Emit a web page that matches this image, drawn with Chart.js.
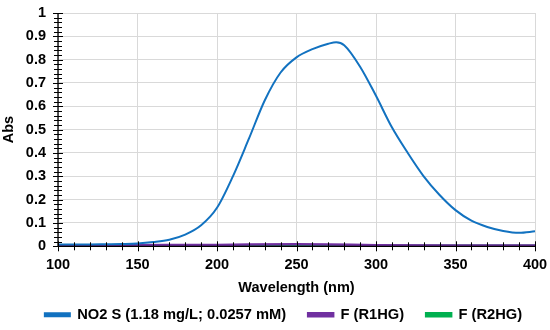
<!DOCTYPE html>
<html>
<head>
<meta charset="utf-8">
<script src="https://cdn.jsdelivr.net/npm/chart.js@4/dist/chart.umd.min.js"></script>
<style>
html,body{margin:0;padding:0;background:#fff;}
#wrap{width:550px;height:330px;position:relative;}
</style>
</head>
<body>
<div id="wrap"><canvas id="c" width="550" height="330"></canvas></div>
<script>
const wavelengths = [100,110,120,130,140,150,160,170,180,190,200,210,220,230,240,250,260,270,275,280,290,300,310,320,330,340,350,360,370,380,390,400];
const no2S = [0.008,0.008,0.008,0.009,0.010,0.012,0.018,0.028,0.05,0.09,0.165,0.30,0.46,0.625,0.745,0.81,0.845,0.868,0.875,0.862,0.77,0.645,0.51,0.40,0.30,0.22,0.155,0.11,0.083,0.066,0.058,0.064];
const r1hgX = [100,150,200,250,270,300,350,400];
const r1hg = [0.004,0.005,0.006,0.009,0.008,0.005,0.003,0.003];
const r2hgX = [100,200,300,400];
const r2hg = [0.002,0.002,0.002,0.002];
const xTicks = [100,150,200,250,300,350,400];
const yTicks = [0,0.1,0.2,0.3,0.4,0.5,0.6,0.7,0.8,0.9,1];
const seriesNames = ['NO2 S (1.18 mg/L; 0.0257 mM)','F (R1HG)','F (R2HG)'];

const toPts = (xs, ys) => xs.map((x, i) => ({x: x, y: ys[i]}));
const FONT = "'Liberation Sans', Arial, sans-serif";

const crossTicks = {
  id: 'crossTicks',
  afterDraw(chart) {
    const ctx = chart.ctx, xs = chart.scales.x, ys = chart.scales.y;
    const ca = chart.chartArea;
    ctx.save();
    ctx.strokeStyle = '#000';
    ctx.lineWidth = 1.3;
    ctx.beginPath();
    ctx.moveTo(ca.left, ca.top); ctx.lineTo(ca.left, ca.bottom);
    ctx.moveTo(ca.left, ca.bottom); ctx.lineTo(ca.right, ca.bottom);
    ctx.stroke();
    ctx.lineWidth = 1;
    ctx.beginPath();
    for (let v = 0; v <= 1.0001; v += 0.02) {
      const y = Math.round(ys.getPixelForValue(v)) + 0.5;
      const major = Math.abs(v * 10 - Math.round(v * 10)) < 1e-6;
      const l = major ? 5 : 4;
      ctx.moveTo(ca.left - l, y); ctx.lineTo(ca.left + l, y);
    }
    for (let v = 100; v <= 400; v += 10) {
      const x = Math.round(xs.getPixelForValue(v)) + 0.5;
      const major = v % 50 === 0;
      const l = major ? 5 : 4;
      ctx.moveTo(x, ca.bottom - l); ctx.lineTo(x, ca.bottom + l);
    }
    ctx.stroke();
    ctx.restore();
  }
};

const legendShift = {
  id: 'legendShift',
  afterLayout(chart) {
    if (chart.legend) { chart.legend.left += 16; chart.legend.right += 16; }
  }
};

new Chart(document.getElementById('c'), {
  type: 'line',
  data: {
    datasets: [
      {label: seriesNames[0], data: toPts(wavelengths, no2S), borderColor: '#1272C0', backgroundColor: '#1272C0', borderWidth: 2, pointRadius: 0, cubicInterpolationMode: 'monotone'},
      {label: seriesNames[1], data: toPts(r1hgX, r1hg), borderColor: '#7030A0', backgroundColor: '#7030A0', borderWidth: 2.5, pointRadius: 0, cubicInterpolationMode: 'monotone'},
      {label: seriesNames[2], data: toPts(r2hgX, r2hg), borderColor: '#00B050', backgroundColor: '#00B050', borderWidth: 2.5, pointRadius: 0, cubicInterpolationMode: 'monotone'}
    ]
  },
  options: {
    responsive: false,
    animation: false,
    layout: {padding: {top: 13, right: 15, left: 0, bottom: -2}},
    plugins: {
      tooltip: {enabled: false},
      legend: {
        position: 'bottom',
        labels: {
          boxWidth: 25, boxHeight: 3, padding: 22,
          color: '#000',
          font: {family: FONT, size: 14.7, weight: 'bold'}
        }
      }
    },
    scales: {
      x: {
        type: 'linear', min: 100, max: 400,
        afterBuildTicks(s) { s.ticks = xTicks.map(v => ({value: v})); },
        afterFit(s) { s.height = 39; s.paddingLeft = 0; s.paddingRight = 0; },
        grid: {color: '#d9d9d9', drawTicks: false, lineWidth: 1},
        border: {display: false},
        ticks: {color: '#000', padding: 10, font: {family: FONT, size: 14.5, weight: 'bold'}, maxRotation: 0},
        title: {display: true, text: 'Wavelength (nm)', color: '#000', padding: {top: 0, bottom: -11}, font: {family: FONT, size: 14.5, weight: 'bold'}}
      },
      y: {
        min: 0, max: 1,
        afterBuildTicks(s) { s.ticks = yTicks.map(v => ({value: v})); },
        afterFit(s) { s.width = 58; s.paddingTop = 0; s.paddingBottom = 0; },
        grid: {color: '#d9d9d9', drawTicks: false, lineWidth: 1},
        border: {display: false},
        ticks: {color: '#000', padding: 12, autoSkip: false, font: {family: FONT, size: 14.5, weight: 'bold'}, callback: v => String(+Number(v).toFixed(2))},
        title: {display: true, text: 'Abs', color: '#000', padding: {top: 0, bottom: 0}, font: {family: FONT, size: 14.5, weight: 'bold'}}
      }
    }
  },
  plugins: [crossTicks, legendShift]
});
</script>
</body>
</html>
